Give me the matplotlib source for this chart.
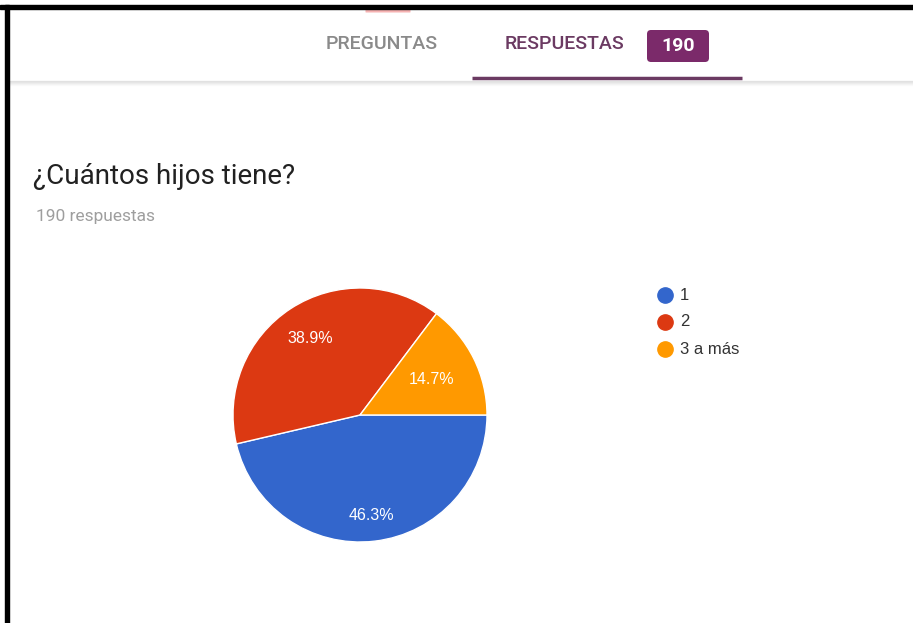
import numpy as np
import matplotlib.pyplot as plt
from matplotlib.patches import Rectangle, FancyBboxPatch

# datos de la encuesta
categorias = ['1', '2', '3 a más']
porcentajes = [46.3, 38.9, 14.7]
colores = ['#3366cc', '#dc3912', '#ff9900']
total_respuestas = 190
pregunta = '¿Cuántos hijos tiene?'

W, H = 913, 623
fig = plt.figure(figsize=(W / 100, H / 100), dpi=100)

# capa de fondo en pixeles (origen arriba a la izquierda)
bg = fig.add_axes([0, 0, 1, 1])
bg.set_xlim(0, W)
bg.set_ylim(H, 0)
bg.axis('off')

# marco negro (arriba e izquierda)
bg.add_patch(Rectangle((0, 5), W, 4, color='black', zorder=5))
bg.add_patch(Rectangle((5, 5), 4, H, color='black', zorder=5))

# restos rojizos del encabezado cortado
bg.add_patch(FancyBboxPatch((366, 9), 44, 3, boxstyle='round,pad=0.5',
                            fc='#f6b3b3', ec='none', zorder=4))

# pestañas
bg.text(382, 44, 'PREGUNTAS', fontsize=14, family='Roboto', weight='medium',
        color='#8a8a8a', ha='center', va='center')
bg.text(565, 44, 'RESPUESTAS', fontsize=14, family='Roboto', weight='medium',
        color='#6b3a62', ha='center', va='center')
bg.add_patch(FancyBboxPatch((647, 30), 62, 32, boxstyle='round,pad=0,rounding_size=4',
                            fc='#7b2a6a', ec='none'))
bg.text(678, 46, str(total_respuestas), fontsize=14, family='Roboto',
        weight='bold', color='white', ha='center', va='center')
bg.plot([472, 742], [78, 78], color='#6b3a62', lw=2.5, solid_capstyle='butt')

# sombra bajo la barra de pestañas
for i, a in enumerate([0.10, 0.07, 0.05, 0.03, 0.015]):
    bg.plot([9, W], [81 + i, 81 + i], color='black', alpha=a, lw=1)

# título de la pregunta
bg.text(33, 184, pregunta, fontsize=20, family='Roboto', color='#212121',
        ha='left', va='baseline')
bg.text(36, 221, f'{total_respuestas} respuestas', fontsize=12.5, family='Roboto',
        color='#9e9e9e', ha='left', va='baseline')

# gráfico circular
cx, cy, r = 360, 415, 127
ax = fig.add_axes([(cx - r) / W, (H - cy - r) / H, 2 * r / W, 2 * r / H])
wedges, _, autotexts = ax.pie(porcentajes, colors=colores, startangle=0,
                              counterclock=False, autopct='%.1f%%',
                              pctdistance=0.75,
                              wedgeprops=dict(edgecolor='white', linewidth=1),
                              textprops=dict(color='white', fontsize=11.5,
                                             family='Liberation Sans'))
ax.set_xlim(-1, 1)
ax.set_ylim(-1, 1)
ax.set_aspect('auto')

# posición de las etiquetas según el tamaño de cada porción
distancias = [0.8, 0.72, 0.63]
for w, t, d in zip(wedges, autotexts, distancias):
    ang = np.deg2rad((w.theta1 + w.theta2) / 2)
    t.set_position((d * np.cos(ang), d * np.sin(ang)))

# leyenda
for i, (cat, c) in enumerate(zip(categorias, colores)):
    y = 295 + 27 * i
    bg.plot(665, y, 'o', ms=11, color=c)
    bg.text(680, y, cat, fontsize=12, family='Liberation Sans', color='#333333',
            ha='left', va='center')

fig.savefig('out.png', dpi=100, facecolor='white')
